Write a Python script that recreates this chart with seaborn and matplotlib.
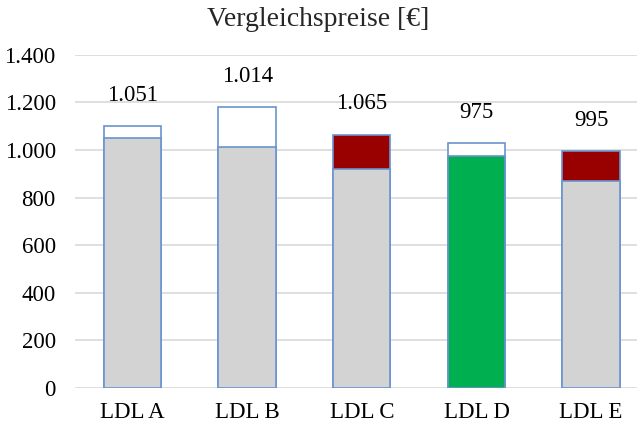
import matplotlib
matplotlib.use("Agg")
import matplotlib.pyplot as plt
import seaborn as sns
import pandas as pd

# Data
categories = ["LDL A", "LDL B", "LDL C", "LDL D", "LDL E"]
base_values = [1051, 1014, 920, 975, 870]
total_values = [1100, 1180, 1065, 1030, 995]
label_values = [1051, 1014, 1065, 975, 995]
base_colors = ["#d3d3d3", "#d3d3d3", "#d3d3d3", "#00b050", "#d3d3d3"]
top_colors = ["#ffffff", "#ffffff", "#990000", "#ffffff", "#990000"]
y_ticks = [0, 200, 400, 600, 800, 1000, 1200, 1400]

sns.set_style("white")
plt.rcParams["font.family"] = ["Liberation Serif", "DejaVu Serif"]

df = pd.DataFrame({"cat": categories, "base": base_values, "total": total_values})

fig = plt.figure(figsize=(6.37, 4.25), dpi=100)
ax = fig.add_axes([0.118, 0.087, 0.882, 0.784])

edge = "#6a93cf"
sns.barplot(data=df, x="cat", y="total", hue="cat", palette=top_colors, saturation=1,
            width=0.5, edgecolor=edge, linewidth=1.2, legend=False, ax=ax, zorder=2)
sns.barplot(data=df, x="cat", y="base", hue="cat", palette=base_colors, saturation=1,
            width=0.5, edgecolor=edge, linewidth=1.2, legend=False, ax=ax, zorder=3)

for i, (tot, lab) in enumerate(zip(total_values, label_values)):
    ax.annotate(f"{lab:,}".replace(",", "."), (i, tot), xytext=(0, 22),
                textcoords="offset points", ha="center", va="center",
                fontsize=16.5, color="black")

ax.set_ylim(0, 1400)
ax.set_xlim(-0.5, 4.4)
ax.set_yticks(y_ticks)
ax.set_yticklabels([f"{v:,}".replace(",", ".") for v in y_ticks])
ax.yaxis.grid(True, color="#d9d9d9", linewidth=1.2, zorder=0)
ax.set_axisbelow(True)
for s in ax.spines.values():
    s.set_visible(False)
ax.tick_params(axis="both", length=0, labelsize=16.5, colors="black")
ax.tick_params(axis="x", pad=10)
ax.tick_params(axis="y", pad=14)
ax.set_xlabel("")
ax.set_ylabel("")

fig.text(0.5, 0.955, "Vergleichspreise [€]", ha="center", va="center", fontsize=20)

fig.savefig("out.png", dpi=100)
